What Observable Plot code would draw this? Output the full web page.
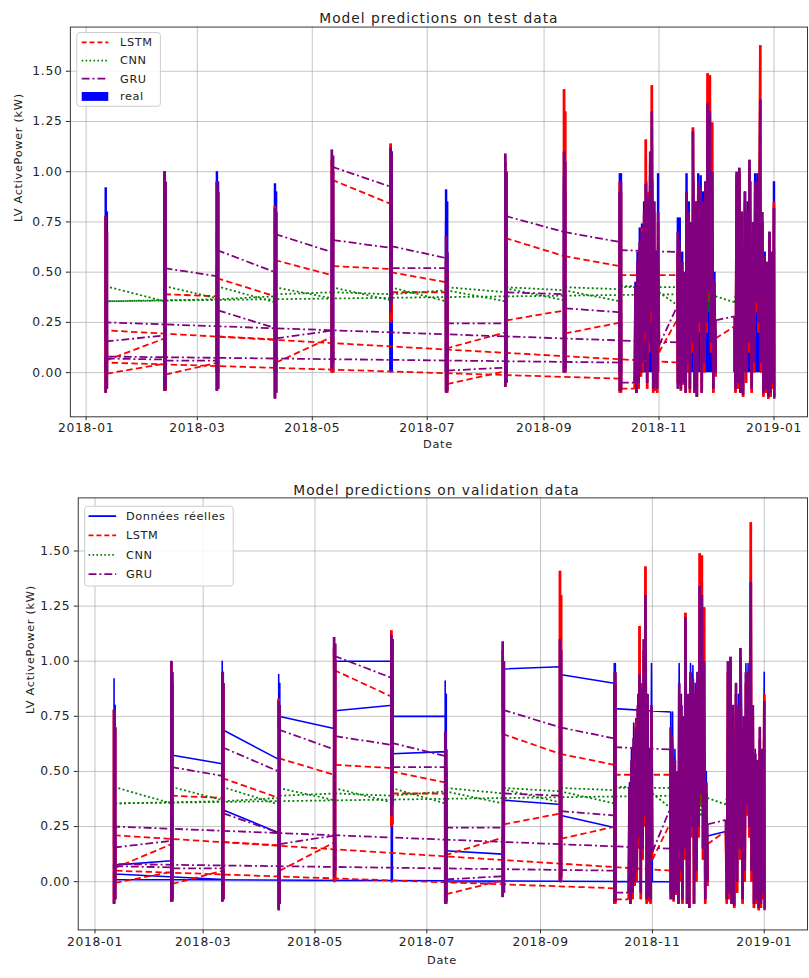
<!DOCTYPE html>
<html><head><meta charset="utf-8">
<script src="https://cdn.jsdelivr.net/npm/d3@7"></script>
<script src="https://cdn.jsdelivr.net/npm/@observablehq/plot@0.6"></script>
<style>
html,body{margin:0;padding:0;background:#fff;overflow:hidden;width:809px;height:978px;}
#chartTop,#chartBottom{position:absolute;left:0}
#chartTop{top:0} #chartBottom{top:460px}
svg text{letter-spacing:0.7px}
</style></head><body>
<div id="chartTop"></div><div id="chartBottom"></div>
<script>
// ---- data (x = days since 2018-01-01, y = LV ActivePower kW) ----
const tickLabels = ["2018-01-01","2018-03-01","2018-05-01","2018-07-01","2018-09-01","2018-11-01","2019-01-01"];
const yTicks = [0, 0.25, 0.5, 0.75, 1.0, 1.25, 1.5];
const topTitle = "Model predictions on test data";
const bottomTitle = "Model predictions on validation data";
const yLabel = "LV ActivePower (kW)";
const xLabel = "Date";

const realPts = [
 [10.4,0.035],[10.4,0.92],[10.4,0.0],[10.4,0.075],
 [41.6,0.095],[41.6,1.0],[41.6,0.0],[41.6,0.575],
 [69.4,0.535],[69.4,1.0],[69.4,0.0],[69.4,0.69],
 [100.2,0.555],[100.2,0.94],[100.2,0.0],[100.2,0.75],
 [130.4,0.695],[130.4,0.0],[130.4,1.0],
 [161.6,1.0],[161.6,0.0],[161.6,0.98],[161.6,0.75],
 [191.0,0.75],[191.0,0.91],[191.0,0.0],[191.0,0.14],
 [222.4,0.125],[222.4,0.6],[222.4,0.0],[222.4,0.965],
 [253.6,0.975],[253.6,0.0],[253.6,0.94],
 [283.2,0.90],[283.2,0.0],[283.2,0.99],[283.2,0.785],
 [314.0,0.77],[314.0,0.0],
 [11.0,0.01],[11.0,0.8],[11.0,0.0],[11.0,0.035],
 [70.0,0.01],[70.0,0.95],[70.0,0.0],[70.0,0.325],
 [100.8,0.22],[100.8,0.9],[100.8,0.005],
 [131.0,0.005],[131.0,1.0],[131.0,0.775],
 [162.2,0.80],[162.2,0.0],[162.2,0.9],[162.2,0.58],
 [191.6,0.59],[191.6,0.85],[191.6,0.0],
 [223.0,0.0],[223.0,0.6],[223.0,0.37],
 [254.2,0.35],[254.2,0.0],[254.2,0.9],[254.2,0.30],
 [283.8,0.245],[283.8,0.99],[283.8,0.0],
 [291.0,0.0],[291.5,0.45],[292.0,0.0],[292.6,0.6],[293.2,0.02],[293.8,0.72],[294.4,0.05],[295.0,0.74],[295.5,0.1],[296.1,0.85],[296.6,0.3],[297.2,0.95],[297.7,0.05],[298.2,0.88],[298.7,0.2],[299.3,0.98],[299.8,0.4],[300.4,0.95],[300.9,0.0],[301.4,0.85],[301.9,0.0],[302.5,0.6],[303.0,0.05],[303.5,0.99],[304.0,0.0],
 [314.6,0.0],[315.0,0.77],[315.6,0.0],[316.3,0.6],[317.0,0.05],[317.6,0.5],[318.2,0.0],[318.6,0.99],[319.2,0.1],[319.8,0.85],[320.4,0.0],[321.0,0.7],[321.7,0.2],[322.3,0.95],[322.9,0.0],[323.5,0.85],[324.1,0.05],[324.8,0.99],[325.4,0.3],[326.1,0.98],[326.7,0.0],[327.3,0.9],[328.0,0.1],[328.6,0.95],[329.2,0.3],[329.8,0.99],[330.4,0.5],[331.0,0.99],[331.6,0.2],[332.2,0.9],[332.8,0.0],[333.4,0.5],[334.0,0.0],[334.0,0.207],
 [344.0,0.228],[344.6,0.0],[345.2,0.98],[345.8,0.05],[346.6,0.99],[347.2,0.0],[348.0,0.8],[348.6,0.0],[349.6,0.9],[350.2,0.05],[351.0,0.85],[351.8,0.2],[352.5,0.95],[353.2,0.0],[353.8,0.7],[354.4,0.1],[355.0,0.99],[355.6,0.4],[356.2,0.99],[356.8,0.3],[357.5,0.99],[358.1,0.1],[358.8,0.75],[359.4,0.0],[360.1,0.6],[360.7,0.0],[361.4,0.55],[362.0,0.0],[362.6,0.7],[363.2,0.0],[363.8,0.6],[364.4,0.05],[365.0,0.95],[365.2,0.0]
];

const lstmPts = [
 [283.2,-0.03],[10.4,0.05],
 [10.4,-0.1],[10.4,0.78],[10.4,0.06],
 [41.6,0.17],[41.6,-0.09],[41.6,1.0],[41.6,0.39],
 [69.4,0.38],[69.4,-0.09],[69.4,0.95],[69.4,0.47],
 [100.2,0.38],[100.2,-0.12],[100.2,0.83],[100.2,0.56],
 [130.4,0.485],[130.4,0.0],[130.4,1.06],[130.4,0.96],
 [161.6,0.84],[161.6,0.25],[161.6,1.14],[161.6,0.50],
 [191.0,0.45],[191.0,-0.09],[191.0,0.55],[191.0,0.12],
 [222.4,0.20],[222.4,-0.07],[222.4,1.05],[222.4,0.67],
 [253.6,0.58],[253.6,0.0],[253.6,1.41],[253.6,0.58],
 [283.2,0.53],[283.2,-0.1],[283.2,0.95],[283.2,0.485],
 [314.0,0.485],[314.0,-0.05],[314.0,0.6],[314.0,0.05],
 [11.0,0.21],[11.0,-0.08],[11.0,0.7],[11.0,-0.005],
 [42.2,0.045],[42.2,-0.09],[42.2,0.9],[42.2,-0.01],
 [70.0,0.05],[70.0,-0.08],[70.0,0.9],[70.0,0.18],
 [100.8,0.165],[100.8,-0.1],[100.8,0.8],[100.8,0.05],
 [131.0,0.18],[131.0,0.0],[131.0,1.0],[131.0,0.53],
 [162.2,0.515],[162.2,0.26],[162.2,1.1],[162.2,0.40],
 [191.6,0.40],[191.6,-0.1],[191.6,0.5],[191.6,-0.057],
 [223.0,0.008],[223.0,-0.05],[223.0,1.0],[223.0,0.26],
 [254.2,0.31],[254.2,0.0],[254.2,1.3],[254.2,0.195],
 [283.8,0.25],[283.8,-0.1],[283.8,0.9],[283.8,-0.08],
 [291.0,-0.08],[291.5,0.4],[292.0,-0.1],[292.6,0.5],[293.2,-0.08],[293.8,0.62],[294.4,-0.02],[295.0,0.72],[295.5,0.0],[296.1,0.78],[296.6,0.15],[297.0,1.16],[297.7,-0.08],[298.2,0.9],[298.7,0.1],[299.3,1.05],[299.8,0.25],[300.2,1.43],[300.9,-0.1],[301.4,0.8],[301.9,-0.09],[302.5,0.5],[303.0,-0.1],[303.5,0.75],[304.0,0.10],
 [314.6,0.28],[314.6,-0.06],[314.6,0.62],
 [315.0,0.55],[315.6,-0.09],[316.3,0.5],[317.0,-0.06],[317.6,0.45],[318.2,-0.1],[318.6,0.85],[319.2,0.0],[319.8,0.75],[320.4,-0.1],[321.0,0.7],[321.7,0.1],[322.0,1.22],[322.9,-0.1],[323.5,0.8],[324.1,-0.12],[324.8,0.9],[325.4,0.2],[326.1,0.88],[326.7,-0.1],[327.3,0.8],[328.0,0.0],[328.6,0.9],[329.2,0.2],[329.8,1.49],[330.4,0.35],[331.0,1.48],[331.6,0.1],[332.2,1.245],[332.8,-0.1],[333.4,0.4],[334.0,-0.02],[334.0,0.17],
 [344.0,0.23],[344.6,-0.1],[345.2,0.95],[345.8,-0.08],[346.6,1.0],[347.2,-0.1],[348.0,0.75],[348.6,-0.12],[349.6,0.85],[350.2,-0.05],[351.0,0.75],[351.8,0.1],[352.0,1.02],[353.2,-0.1],[353.8,0.7],[354.4,0.0],[355.0,0.9],[355.6,0.3],[356.2,0.9],[356.8,0.2],[357.7,1.63],[358.1,0.0],[358.8,0.75],[359.4,-0.12],[360.1,0.55],[360.7,-0.1],[361.4,0.5],[362.0,-0.13],[362.6,0.65],[363.2,-0.12],[363.8,0.55],[364.4,-0.08],[365.0,0.85],[365.2,-0.12]
];

const cnnPts = [
 [10.4,0.36],[10.4,0.44],[10.4,0.43],
 [41.6,0.355],[41.6,0.44],[41.6,0.43],
 [69.4,0.37],[69.4,0.44],[69.4,0.43],
 [100.2,0.35],[100.2,0.44],[100.2,0.425],
 [130.4,0.37],[130.4,0.44],[130.4,0.425],
 [161.6,0.36],[161.6,0.44],[161.6,0.425],
 [191.0,0.355],[191.0,0.43],[191.0,0.41],
 [222.4,0.355],[222.4,0.43],[222.4,0.42],
 [253.6,0.36],[253.6,0.43],[253.6,0.41],
 [283.2,0.355],[283.2,0.44],[283.2,0.425],
 [314.0,0.425],[314.0,0.35],[314.0,0.39],
 [11.0,0.355],[11.0,0.33],[11.0,0.355],
 [42.2,0.36],[42.2,0.34],[42.2,0.36],
 [70.0,0.365],[70.0,0.33],[70.0,0.365],
 [100.8,0.38],[100.8,0.35],[100.8,0.39],
 [131.0,0.40],[131.0,0.36],[131.0,0.40],
 [162.2,0.39],[162.2,0.35],[162.2,0.39],
 [191.6,0.41],[191.6,0.43],[191.6,0.425],
 [223.0,0.40],[223.0,0.43],[223.0,0.425],
 [254.2,0.41],[254.2,0.43],[254.2,0.425],
 [283.8,0.415],[283.8,0.33],[283.8,0.43],
 [291.0,0.43],[291.6,0.32],[292.2,0.44],[292.8,0.3],[293.4,0.43],[294.0,0.33],[294.6,0.44],[295.2,0.29],[295.8,0.43],[296.4,0.3],[297.0,0.42],[297.6,0.33],[298.3,0.43],[299.0,0.35],[300.0,0.42],[301.0,0.36],[302.0,0.41],[303.0,0.37],[304.0,0.40],
 [314.6,0.33],
 [315.5,0.42],[316.5,0.38],[318.0,0.41],[320.0,0.37],[322.0,0.42],[324.0,0.38],[326.0,0.41],[327.5,0.3],[328.0,0.44],[328.5,0.3],[329.0,0.44],[329.5,0.31],[330.0,0.43],[330.5,0.3],[331.0,0.43],[332.0,0.36],[333.0,0.41],[334.0,0.38],
 [344.0,0.35],
 [345.0,0.42],[347.0,0.37],[349.0,0.41],[351.0,0.38],[353.0,0.42],[355.0,0.37],[357.0,0.41],[359.0,0.37],[360.5,0.44],[361.0,0.3],[361.5,0.44],[362.0,0.31],[362.5,0.43],[363.0,0.3],[363.5,0.43],[364.0,0.31],[364.5,0.42],[365.0,0.36]
];

const gruPts = [
 [283.2,0.05],[10.4,0.08],
 [10.4,-0.1],[10.4,0.78],[10.4,0.155],
 [41.6,0.185],[41.6,-0.09],[41.6,1.0],[41.6,0.52],
 [69.4,0.48],[69.4,-0.09],[69.4,0.95],[69.4,0.61],
 [100.2,0.50],[100.2,-0.13],[100.2,0.82],[100.2,0.69],
 [130.4,0.60],[130.4,0.02],[130.4,1.11],[130.4,1.025],
 [161.6,0.925],[161.6,0.3],[161.6,1.12],[161.6,0.63],
 [191.0,0.57],[191.0,-0.1],[191.0,0.68],[191.0,0.245],
 [222.4,0.245],[222.4,-0.07],[222.4,1.09],[222.4,0.78],
 [253.6,0.70],[253.6,0.0],[253.6,1.1],[253.6,0.70],
 [283.2,0.65],[283.2,-0.09],[283.2,0.9],[283.2,0.61],
 [314.0,0.60],[314.0,-0.08],[314.0,0.7],[314.0,0.15],
 [11.0,0.25],[11.0,-0.08],[11.0,0.7],[11.0,0.07],
 [42.2,0.065],[42.2,-0.08],[42.2,0.95],[42.2,0.06],
 [70.0,0.06],[70.0,-0.08],[70.0,0.9],[70.0,0.31],
 [100.8,0.22],[100.8,-0.1],[100.8,0.8],[100.8,0.17],
 [131.0,0.21],[131.0,0.05],[131.0,1.08],[131.0,0.66],
 [162.2,0.62],[162.2,0.35],[162.2,1.1],[162.2,0.52],
 [191.6,0.52],[191.6,-0.09],[191.6,0.6],[191.6,0.01],
 [223.0,0.025],[223.0,-0.05],[223.0,1.0],[223.0,0.40],
 [254.2,0.39],[254.2,0.02],[254.2,1.05],[254.2,0.32],
 [283.8,0.30],[283.8,-0.09],[283.8,0.95],[283.8,-0.05],
 [291.0,-0.05],[291.5,0.43],[292.0,-0.1],[292.6,0.55],[293.2,-0.05],[293.8,0.65],[294.4,0.0],[295.0,0.7],[295.5,0.05],[296.1,0.8],[296.6,0.2],[297.0,0.94],[297.7,-0.05],[298.2,0.88],[298.7,0.15],[299.3,1.1],[299.8,0.3],[300.2,1.30],[300.9,-0.08],[301.4,0.85],[301.9,-0.07],[302.5,0.55],[303.0,-0.08],[303.5,0.8],[304.0,0.135],
 [314.6,0.35],[314.6,-0.05],[314.6,0.66],
 [315.0,0.6],[315.6,-0.08],[316.3,0.55],[317.0,-0.05],[317.6,0.5],[318.2,-0.1],[318.6,0.9],[319.2,0.05],[319.8,0.8],[320.4,-0.08],[321.0,0.75],[321.7,0.15],[322.0,1.2],[322.9,-0.1],[323.5,0.85],[324.1,-0.12],[324.8,0.95],[325.4,0.25],[326.1,0.92],[326.7,-0.1],[327.3,0.85],[328.0,0.05],[328.6,0.95],[329.2,0.25],[329.8,1.34],[330.4,0.4],[331.0,1.3],[331.6,0.15],[332.2,1.0],[332.8,-0.08],[333.4,0.45],[334.0,0.0],[334.0,0.26],
 [344.0,0.28],[344.6,-0.08],[345.2,1.0],[345.8,-0.05],[346.6,1.02],[347.2,-0.1],[348.0,0.8],[348.6,-0.11],[349.6,0.9],[350.2,0.0],[351.0,0.8],[351.8,0.15],[352.0,1.06],[353.2,-0.08],[353.8,0.75],[354.4,0.05],[355.0,0.95],[355.6,0.35],[356.2,0.95],[356.8,0.25],[357.7,1.36],[358.1,0.05],[358.8,0.8],[359.4,-0.1],[360.1,0.58],[360.7,-0.08],[361.4,0.55],[362.0,-0.12],[362.6,0.7],[363.2,-0.1],[363.8,0.6],[364.4,-0.05],[365.0,0.82],[365.2,-0.13]
];

// ---- helpers ----
const T0 = Date.UTC(2018, 0, 1);
const toDate = d => new Date(T0 + d * 864e5);
const toRows = pts => pts.map(([d, v], i) => ({date: toDate(d), v, i}));
const realRows = toRows(realPts), lstmRows = toRows(lstmPts), cnnRows = toRows(cnnPts), gruRows = toRows(gruPts);
const tickDates = tickLabels.map(s => new Date(s));

// consecutive segments: "local" (within a burst of samples) vs long jumps between bursts
function segments(rows, local) {
  const out = [];
  for (let i = 1; i < rows.length; i++) {
    const a = rows[i - 1], b = rows[i];
    const isLocal = Math.abs(b.date - a.date) <= 2 * 864e5;
    if (isLocal === local) out.push({x1: a.date, y1: a.v, x2: b.date, y2: b.v});
  }
  return out;
}

const C = {real: "#0000ff", lstm: "#ff0000", cnn: "#008000", gru: "#800080"};
const DASH = {lstm: "6.5,3.5", cnn: "2,2.5", gru: "8,3,2,3"};
function seriesMarks(rows, key) {
  const link = {x1: "x1", y1: "y1", x2: "x2", y2: "y2", stroke: C[key], strokeLinecap: "butt"};
  return [
    Plot.link(segments(rows, false), {...link, strokeWidth: 1.8, strokeDasharray: DASH[key]}),
    Plot.link(segments(rows, true), {...link, strokeWidth: key === "cnn" ? 1.5 : 2.5, strokeDasharray: key === "cnn" ? DASH.cnn : null})
  ];
}

function frameMarks(title, titleDy, titleDx, ylDx, xlDy) {
  return [
    Plot.ruleX(tickDates, {stroke: "#b0b0b0", strokeOpacity: 0.75, strokeWidth: 1}),
    Plot.ruleY(yTicks, {stroke: "#b0b0b0", strokeOpacity: 0.75, strokeWidth: 1}),
    Plot.text([title], {frameAnchor: "top", dy: titleDy, dx: titleDx, text: d => d, fontSize: 14, fill: "#222"}),
    Plot.text([yLabel], {frameAnchor: "left", dx: ylDx, rotate: -90, text: d => d, fontSize: 11.5, fill: "#222"}),
    Plot.text([xLabel], {frameAnchor: "bottom", dy: xlDy, dx: -1, text: d => d, fontSize: 11.5, fill: "#222"})
  ];
}

function baseOpts(h, mL, mT, mB, domainX, domainY) {
  return {
    width: 822, height: h,
    marginLeft: mL, marginRight: 2, marginTop: mT, marginBottom: mB,
    style: {fontFamily: "'DejaVu Sans', sans-serif", fontSize: "12.5px", color: "#222", background: "transparent", overflow: "visible"},
    x: {type: "utc", domain: domainX, ticks: tickDates, tickFormat: d3.utcFormat("%Y-%m"), label: null, tickSize: 4, tickPadding: 3},
    y: {domain: domainY, ticks: yTicks, tickFormat: d3.format(".2f"), label: null, tickSize: 4, tickPadding: 4}
  };
}

function addLegend(svg, box, rowsY, sx1, sx2, tx, entries) {
  const g = d3.select(svg).append("g").attr("text-anchor", "start");
  g.append("rect").attr("x", box[0]).attr("y", box[1]).attr("width", box[2]).attr("height", box[3])
    .attr("rx", 3).attr("fill", "white").attr("fill-opacity", 0.85).attr("stroke", "#cccccc");
  entries.forEach((e, i) => {
    const y = rowsY[i];
    if (e.patch) g.append("rect").attr("x", sx1).attr("y", y - 4.5).attr("width", sx2 - sx1).attr("height", 9).attr("fill", e.color);
    else g.append("line").attr("x1", sx1).attr("x2", sx2).attr("y1", y).attr("y2", y)
      .attr("stroke", e.color).attr("stroke-width", 1.8).attr("stroke-dasharray", e.dash || null);
    g.append("text").attr("x", tx).attr("y", y).attr("dy", "0.35em").attr("font-size", 11.5)
      .attr("text-anchor", "start").attr("fill", "#222").style("letter-spacing", "0.6px").text(e.label);
  });
}

// ---- top: test data ----
const chartTop = Plot.plot({
  ...baseOpts(460, 71, 27, 37, [toDate(-8.36), toDate(382.8)], [-0.22, 1.72]),
  marks: [
    ...frameMarks(topTitle, -14, 0, -53, 32),
    Plot.ruleX(realRows, {x: "date", y1: 0, y2: "v", stroke: C.real, strokeWidth: 2.5}),
    ...seriesMarks(lstmRows, "lstm"),
    ...seriesMarks(cnnRows, "cnn"),
    ...seriesMarks(gruRows, "gru"),
    Plot.frame({stroke: "#333", strokeWidth: 1})
  ]
});
addLegend(chartTop, [78, 33, 85, 75], [43, 61.5, 80, 98], 83, 110, 122, [
  {label: "LSTM", color: C.lstm, dash: "5,3"},
  {label: "CNN", color: C.cnn, dash: "1.6,2.4"},
  {label: "GRU", color: C.gru, dash: "8,3,2,3"},
  {label: "real", color: C.real, patch: true}
]);
document.getElementById("chartTop").appendChild(chartTop);

// ---- bottom: validation data ----
const chartBottom = Plot.plot({
  ...baseOpts(518, 79, 38, 41, [toDate(-9.12), toDate(388.6)], [-0.219, 1.741]),
  marks: [
    ...frameMarks(bottomTitle, -13, -6.5, -49, 35),
    Plot.line(realRows, {x: "date", y: "v", stroke: C.real, strokeWidth: 1.6}),
    ...seriesMarks(lstmRows, "lstm"),
    ...seriesMarks(cnnRows, "cnn"),
    ...seriesMarks(gruRows, "gru"),
    Plot.frame({stroke: "#333", strokeWidth: 1})
  ]
});
addLegend(chartBottom, [86, 47, 151, 81], [57, 76.5, 96.5, 116], 90, 118, 128, [
  {label: "Données réelles", color: C.real},
  {label: "LSTM", color: C.lstm, dash: "5,3"},
  {label: "CNN", color: C.cnn, dash: "1.6,2.4"},
  {label: "GRU", color: C.gru, dash: "8,3,2,3"}
]);
document.getElementById("chartBottom").appendChild(chartBottom);

// title letter spacing
d3.selectAll("svg text").filter(function() { return this.textContent.startsWith("Model"); }).style("letter-spacing", "1px");
</script>
</body></html>
